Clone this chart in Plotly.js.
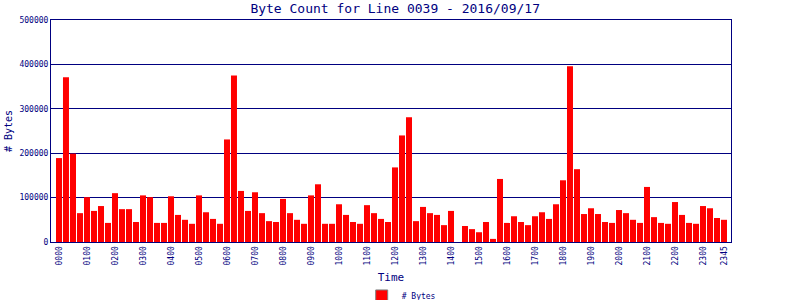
<!DOCTYPE html>
<html>
<head>
<meta charset="utf-8">
<script src="https://cdn.plot.ly/plotly-3.0.1.min.js"></script>
<style>html,body{margin:0;padding:0;background:#fff;}#chart{width:800px;height:300px;}</style>
</head>
<body>
<div id="chart"></div>
<script>
const times = [
 "0000","0015","0030","0045","0100","0115","0130","0145","0200","0215","0230","0245",
 "0300","0315","0330","0345","0400","0415","0430","0445","0500","0515","0530","0545",
 "0600","0615","0630","0645","0700","0715","0730","0745","0800","0815","0830","0845",
 "0900","0915","0930","0945","1000","1015","1030","1045","1100","1115","1130","1145",
 "1200","1215","1230","1245","1300","1315","1330","1345","1400","1415","1430","1445",
 "1500","1515","1530","1545","1600","1615","1630","1645","1700","1715","1730","1745",
 "1800","1815","1830","1845","1900","1915","1930","1945","2000","2015","2030","2045",
 "2100","2115","2130","2145","2200","2215","2230","2245","2300","2315","2330","2345"
];
const bytes = [
 189000,371000,199000,65000,101000,70000,81000,43000,110000,74000,74000,45000,
 105000,101000,43000,43000,103000,61000,50000,41000,105000,67000,52000,41000,
 231000,375000,115000,70000,112000,65000,47000,45000,97000,65000,50000,41000,
 105000,130000,41000,41000,85000,61000,45000,41000,83000,65000,52000,45000,
 168000,240000,281000,47000,79000,65000,61000,38000,70000,0,36000,29000,
 22000,45000,7000,142000,43000,58000,45000,38000,58000,67000,52000,85000,
 139000,396000,164000,63000,76000,63000,45000,43000,72000,65000,50000,43000,
 124000,56000,43000,41000,90000,61000,43000,41000,81000,76000,54000,50000
];
const tickLabels = ["0000","0100","0200","0300","0400","0500","0600","0700","0800","0900","1000","1100",
 "1200","1300","1400","1500","1600","1700","1800","1900","2000","2100","2200","2300","2345"];
const yTicks = [0,100000,200000,300000,400000,500000];
const seriesName = "# Bytes";

const navy = "#000080";
const mono = "DejaVu Sans Mono, monospace";

const traces = [
 {type:"bar", x:times, y:bytes, marker:{color:"#ff0000", line:{width:0}}, showlegend:false, hoverinfo:"x+y"},
 {type:"bar", x:[null], y:[null], name:seriesName, marker:{color:"#ff0000", line:{color:"#808080", width:1}}, showlegend:true}
];

const layout = {
 width:800, height:300,
 margin:{l:51, r:69, t:20, b:58, pad:0, autoexpand:false},
 paper_bgcolor:"#fff", plot_bgcolor:"#fff",
 bargap:0.143,
 title:{text:"Byte Count for Line 0039 - 2016/09/17", x:0.494, xanchor:"center", y:0.972, yanchor:"middle",
   font:{family:mono, size:13, color:navy}},
 xaxis:{type:"category", range:[-1.14,96], tickmode:"array", tickvals:tickLabels, ticktext:tickLabels,
   tickangle:-90, tickfont:{family:mono, size:8, color:navy}, ticks:"", showgrid:false,
   showline:true, linecolor:navy, linewidth:1, mirror:true, zeroline:false,
   title:{text:"Time", font:{family:mono, size:11, color:navy}, standoff:8}, automargin:false},
 yaxis:{range:[0,500000], tickmode:"array", tickvals:yTicks, ticktext:yTicks.map(String),
   tickfont:{family:mono, size:8, color:navy}, ticks:"", showgrid:true, gridcolor:navy, gridwidth:1,
   showline:true, linecolor:navy, linewidth:1, mirror:true, zeroline:false,
   title:{text:"# Bytes", font:{family:mono, size:10, color:navy}, standoff:4}, automargin:false},
 legend:{orientation:"h", x:0.515, xanchor:"center", y:-0.243, yanchor:"middle",
   font:{family:mono, size:8, color:navy}, bgcolor:"rgba(0,0,0,0)", itemwidth:30},
 showlegend:true
};

Plotly.newPlot("chart", traces, layout, {staticPlot:true, displayModeBar:false});
</script>
</body>
</html>
